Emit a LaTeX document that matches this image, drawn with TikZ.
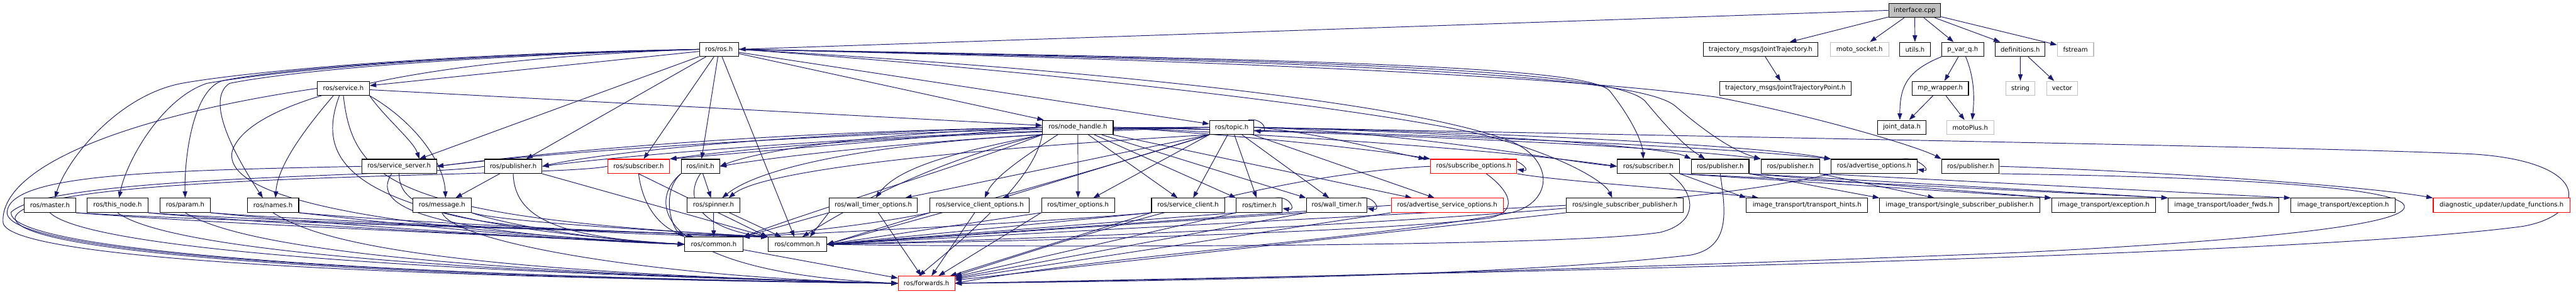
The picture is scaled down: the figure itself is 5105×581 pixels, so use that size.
\documentclass[tikz,border=0pt]{standalone}
\usepackage{fontspec}
\newfontfamily\depfont{DejaVu Sans}
\usepackage{xcolor}
\definecolor{cEdge}{RGB}{25,25,112}
\definecolor{cMiss}{RGB}{191,191,191}
\definecolor{cCut}{RGB}{255,0,0}
\usepackage{tikz}
\pgfdeclarelayer{background}
\pgfsetlayers{background, main}
\usetikzlibrary{arrows.meta, positioning}

\begin{document}
\begin{tikzpicture}[x=1pt, y=-1pt,
    hdr/.style={draw=black, line width=1.3pt, fill=white, minimum height=28pt, inner sep=0pt,
      font=\depfont\fontsize{12.6pt}{15pt}\selectfont},
    hdrmiss/.style={hdr, draw=cMiss},
    hdrcut/.style={hdr, draw=cCut},
    hdrroot/.style={hdr, fill=cMiss},
    dep/.style={draw=cEdge, line width=1.2pt, -{Triangle[length=13pt, width=9pt]}}]
    \useasboundingbox (0,0) rectangle (5105,581);

    % ---------- rank 0 / 1 ----------
    \node[hdrroot, minimum width=103pt] (iface) at (3794.5,20.5) {interface.cpp};
    \node[hdr, minimum width=78pt] (rosh) at (1425,97.7) {ros/ros.h};
    \node[hdr, minimum width=226pt] (jtraj) at (3489,97.7) {trajectory\_msgs/JointTrajectory.h};
    \node[hdrmiss, minimum width=116pt] (motosock) at (3685,97.7) {moto\_socket.h};
    \node[hdr, minimum width=60pt] (utils) at (3795,97.7) {utils.h};
    \node[hdr, minimum width=83pt] (pvarq) at (3889.5,97.7) {p\_var\_q.h};
    \node[hdr, minimum width=99pt] (defs) at (4003.5,97.7) {definitions.h};
    \node[hdrmiss, minimum width=72pt] (fstream) at (4113,97.7) {fstream};

    % ---------- rank 2 / 3 ----------
    \node[hdr, minimum width=103pt] (service) at (680.5,174.9) {ros/service.h};
    \node[hdr, minimum width=260pt] (jtpoint) at (3538,174.9) {trajectory\_msgs/JointTrajectoryPoint.h};
    \node[hdr, minimum width=112pt] (mpwrap) at (3845,174.9) {mp\_wrapper.h};
    \node[hdrmiss, minimum width=58pt] (string) at (4004,174.9) {string};
    \node[hdrmiss, minimum width=61pt] (vector) at (4086.5,174.9) {vector};
    \node[hdr, minimum width=140pt] (nodehandle) at (2136,252.1) {ros/node\_handle.h};
    \node[hdr, minimum width=88pt] (topic) at (2441,252.1) {ros/topic.h};
    \node[hdr, minimum width=96pt] (jointdata) at (3769,252.1) {joint\_data.h};
    \node[hdrmiss, minimum width=93pt] (motoplus) at (3904.5,252.1) {motoPlus.h};

    % ---------- rank 4 ----------
    \node[hdr, minimum width=148pt] (srvserver) at (791,329.3) {ros/service\_server.h};
    \node[hdr, minimum width=114pt] (pubA) at (1017,329.3) {ros/publisher.h};
    \node[hdrcut, minimum width=123pt] (subA) at (1265.5,329.3) {ros/subscriber.h};
    \node[hdr, minimum width=76pt] (init) at (1388,329.3) {ros/init.h};
    \node[hdrcut, minimum width=171pt] (subopts) at (2920.5,329.3) {ros/subscribe\_options.h};
    \node[hdr, minimum width=123pt] (subB) at (3266.5,329.3) {ros/subscriber.h};
    \node[hdr, minimum width=114pt] (pubB) at (3409,329.3) {ros/publisher.h};
    \node[hdr, minimum width=116pt] (pubC) at (3548,329.3) {ros/publisher.h};
    \node[hdr, minimum width=170pt] (advopts) at (3714,329.3) {ros/advertise\_options.h};
    \node[hdr, minimum width=114pt] (pubD) at (3905,329.3) {ros/publisher.h};

    % ---------- rank 5 ----------
    \node[hdr, minimum width=102pt] (master) at (99,406.5) {ros/master.h};
    \node[hdr, minimum width=120pt] (thisnode) at (233,406.5) {ros/this\_node.h};
    \node[hdr, minimum width=100pt] (param) at (367,406.5) {ros/param.h};
    \node[hdr, minimum width=102pt] (names) at (541,406.5) {ros/names.h};
    \node[hdr, minimum width=116pt] (message) at (876,406.5) {ros/message.h};
    \node[hdr, minimum width=104pt] (spinner) at (1414,406.5) {ros/spinner.h};
    \node[hdr, minimum width=175pt] (wtopts) at (1730.5,406.5) {ros/wall\_timer\_options.h};
    \node[hdr, minimum width=197pt] (scopts) at (1941.5,406.5) {ros/service\_client\_options.h};
    \node[hdr, minimum width=145pt] (topts) at (2136.5,406.5) {ros/timer\_options.h};
    \node[hdr, minimum width=145pt] (sclient) at (2354.5,406.5) {ros/service\_client.h};
    \node[hdr, minimum width=91pt] (timer) at (2495.5,406.5) {ros/timer.h};
    \node[hdr, minimum width=120pt] (wtimer) at (2649,406.5) {ros/wall\_timer.h};
    \node[hdrcut, minimum width=222pt] (asopts) at (2868,406.5) {ros/advertise\_service\_options.h};
    \node[hdr, minimum width=232pt] (sspub) at (3220,406.5) {ros/single\_subscriber\_publisher.h};
    \node[hdr, minimum width=240pt] (ithints) at (3581,406.5) {image\_transport/transport\_hints.h};
    \node[hdr, minimum width=317pt] (itsspub) at (3883.5,406.5) {image\_transport/single\_subscriber\_publisher.h};
    \node[hdr, minimum width=206pt] (itexcA) at (4169,406.5) {image\_transport/exception.h};
    \node[hdr, minimum width=219pt] (itloader) at (4406.5,406.5) {image\_transport/loader\_fwds.h};
    \node[hdr, minimum width=207pt] (itexcB) at (4643.5,406.5) {image\_transport/exception.h};
    \node[hdrcut, minimum width=271pt] (diag) at (4957.5,406.5) {diagnostic\_updater/update\_functions.h};

    % ---------- rank 6 / 7 ----------
    \node[hdr, minimum width=115pt] (commonA) at (1414.5,483.7) {ros/common.h};
    \node[hdr, minimum width=116pt] (commonB) at (1580,483.7) {ros/common.h};
    \node[hdrcut, minimum width=112pt] (forwards) at (1836,560.9) {ros/forwards.h};

    \begin{pgfonlayer}{background}
    % ---------- interface.cpp ----------
    \draw[dep] (iface.west) -- (rosh.east);
    \draw[dep] (iface) -- (jtraj);
    \draw[dep] (iface) -- (motosock);
    \draw[dep] (iface) -- (utils);
    \draw[dep] (iface) -- (pvarq);
    \draw[dep] (iface) -- (defs);
    \draw[dep] (iface) -- (fstream);
    \draw[dep] (jtraj) -- (jtpoint);
    \draw[dep] (pvarq) -- (mpwrap);
    \draw[dep] ([xshift=6pt]pvarq.south) .. controls (3915,160) and (3912,200) .. ([xshift=4pt]motoplus.north);
    \draw[dep] (pvarq.south west) .. controls (3780,140) and (3765,170) .. ([xshift=-4pt]jointdata.north);
    \draw[dep] (mpwrap) -- (jointdata);
    \draw[dep] (mpwrap) -- (motoplus);
    \draw[dep] (defs) -- (string);
    \draw[dep] (defs) -- (vector);

    % ---------- ros/ros.h ----------
    \draw[dep] (rosh) -- (service);
    \draw[dep] (rosh.west) .. controls (900,105) and (500,140) .. (360,165) .. controls (230,190) and (130,320) .. ([xshift=10pt]master.north);
    \draw[dep] (rosh.west) .. controls (900,108) and (550,140) .. (410,165) .. controls (320,195) and (250,320) .. ([xshift=3pt]thisnode.north);
    \draw[dep] (rosh.west) .. controls (900,110) and (560,135) .. (440,160) .. controls (380,180) and (365,320) .. (param.north);
    \draw[dep] (rosh.west) .. controls (900,112) and (580,140) .. (455,165) .. controls (400,200) and (480,330) .. ([xshift=-20pt]names.north);
    \draw[dep] (rosh.west) .. controls (800,118) and (490,200) .. (460,300) .. controls (440,400) and (800,455) .. (commonA.west);
    \draw[dep] (rosh) -- (srvserver);
    \draw[dep] (rosh) -- (pubA);
    \draw[dep] (rosh) -- (subA);
    \draw[dep] (rosh) -- (init);
    \draw[dep] (rosh) -- (commonB);
    \draw[dep] (rosh) -- (nodehandle);
    \draw[dep] (rosh) -- (topic);
    \draw[dep] (rosh.east) .. controls (2200,150) and (2800,230) .. (2950,270) .. controls (3100,310) and (3180,360) .. ([xshift=-25pt]sspub.north);
    \draw[dep] (rosh.east) .. controls (2200,140) and (2800,205) .. (2995,280) .. controls (3085,320) and (3075,405) .. (2990,422) .. controls (2700,475) and (2200,505) .. (forwards.east);
    \draw[dep] (rosh.east) .. controls (2700,118) and (3150,135) .. (3190,180) .. controls (3230,230) and (3255,280) .. ([xshift=-10pt]subB.north);
    \draw[dep] (rosh.east) .. controls (2700,120) and (3200,140) .. (3260,200) .. controls (3310,260) and (3340,290) .. ([xshift=-30pt]pubB.north);
    \draw[dep] (rosh.east) .. controls (2700,122) and (3250,150) .. (3320,210) .. controls (3390,270) and (3440,300) .. (pubC.north west);
    \draw[dep] (rosh.east) .. controls (2700,125) and (3200,165) .. (3400,192) .. controls (3600,230) and (3800,290) .. (pubD.north west);

    % ---------- ros/service.h ----------
    \draw[dep] (service) -- (nodehandle);
    \draw[dep] (service.south east) .. controls (760,230) and (820,280) .. ([xshift=40pt]srvserver.north);
    \draw[dep] (service.south east) .. controls (820,240) and (880,320) .. ([xshift=7pt]message.north);
    \draw[dep] ([xshift=-20pt]service.south) .. controls (600,260) and (550,330) .. ([xshift=5pt]names.north);
    \draw[dep] ([xshift=-8pt]service.south) .. controls (620,330) and (700,440) .. (commonA.west);
    \draw[dep] (service.south) .. controls (700,360) and (780,430) .. (commonB.north west);
    \draw[dep] (service.west) .. controls (250,230) and (0,330) .. (6,440) .. controls (12,520) and (900,550) .. (forwards.west);

    % ---------- rank 4, left ----------
    \draw[dep] (srvserver.west) .. controls (300,338) and (20,345) .. (14,420) .. controls (8,510) and (900,548) .. (forwards.west);
    \draw[dep] ([xshift=-15pt]srvserver.south) .. controls (740,400) and (800,460) .. (commonA.west);
    \draw[dep] (srvserver.south) .. controls (790,420) and (900,460) .. (commonB.north west);
    \draw[dep] (pubA) -- (message);
    \draw[dep] (pubA.south) .. controls (1020,430) and (1100,470) .. (commonA.west);
    \draw[dep] (pubA.south east) -- (commonB.north west);
    \draw[dep] (pubA.west) .. controls (850,350) and (100,345) .. (22,420) .. controls (12,505) and (900,550) .. (forwards.west);
    \draw[dep] (subA.south) .. controls (1275,420) and (1320,460) .. ([xshift=-40pt]commonA.north);
    \draw[dep] (subA.south) -- (commonB.north west);
    \draw[dep] (subA.west) .. controls (1100,352) and (60,340) .. (30,430) .. controls (20,510) and (900,552) .. (forwards.west);
    \draw[dep] (init) -- (spinner);
    \draw[dep] (init.south west) .. controls (1310,380) and (1330,450) .. (commonA.north west);
    \draw[dep] (init.south) .. controls (1350,400) and (1400,455) .. (commonB.north west);
    \draw[dep] (init.south west) .. controls (1280,400) and (1300,540) .. (forwards.west);
    \draw[dep] (spinner) -- (commonA);
    \draw[dep] (spinner) -- (commonB);
    \draw[dep] (commonA) -- (forwards);

    % ---------- rank 5, left ----------
    \draw[dep] (master.south east) .. controls (450,445) and (1100,470) .. (commonA.west);
    \draw[dep] (master.south east) .. controls (450,440) and (1200,455) .. (commonB.north west);
    \draw[dep] (master.south) .. controls (150,470) and (500,530) .. (forwards.west);
    \draw[dep] (thisnode.south east) .. controls (550,445) and (1100,472) .. (commonA.west);
    \draw[dep] (thisnode.south east) .. controls (550,440) and (1200,456) .. (commonB.north west);
    \draw[dep] (thisnode.south) .. controls (300,470) and (600,532) .. (forwards.west);
    \draw[dep] (param.south east) .. controls (650,445) and (1100,474) .. (commonA.west);
    \draw[dep] (param.south east) .. controls (650,440) and (1200,457) .. (commonB.north west);
    \draw[dep] (param.south) .. controls (450,470) and (700,534) .. (forwards.west);
    \draw[dep] (names.south east) .. controls (800,445) and (1100,476) .. (commonA.west);
    \draw[dep] (names.south east) .. controls (800,440) and (1200,458) .. (commonB.north west);
    \draw[dep] (names.south) .. controls (620,470) and (800,536) .. (forwards.west);
    \draw[dep] (message.south east) .. controls (1000,445) and (1200,478) .. (commonA.west);
    \draw[dep] (message.south east) .. controls (1000,440) and (1300,456) .. (commonB.north west);
    \draw[dep] (message.south) .. controls (900,480) and (1300,550) .. (forwards.west);

    % ---------- ros/node_handle.h ----------
    \draw[dep] (nodehandle.west) .. controls (1500,262) and (1100,300) .. (srvserver.east);
    \draw[dep] (nodehandle.west) .. controls (1600,262) and (1200,300) .. (pubA.east);
    \draw[dep] (nodehandle.west) -- (subA.north east);
    \draw[dep] (nodehandle.west) .. controls (1700,265) and (1500,300) .. (init.east);
    \draw[dep] (nodehandle.south west) .. controls (1800,280) and (1520,320) .. ([xshift=17pt]spinner.north);
    \draw[dep] (nodehandle.south west) .. controls (1900,300) and (1780,330) .. ([xshift=5pt]wtopts.north);
    \draw[dep] ([xshift=-40pt]nodehandle.south) .. controls (2030,310) and (1970,350) .. ([xshift=10pt]scopts.north);
    \draw[dep] (nodehandle) -- (topts);
    \draw[dep] (nodehandle) -- (sclient);
    \draw[dep] (nodehandle) -- (timer.north west);
    \draw[dep] (nodehandle) -- (wtimer.north west);
    \draw[dep] (nodehandle) -- ([xshift=-70pt]asopts.north);
    \draw[dep] (nodehandle.east) .. controls (2500,270) and (2750,300) .. (subopts.north west);
    \draw[dep] (nodehandle.east) .. controls (2600,270) and (3000,300) .. (subB.west);
    \draw[dep] (nodehandle.east) .. controls (2800,262) and (3400,290) .. (advopts.north west);
    \draw[dep] (nodehandle.east) .. controls (2700,262) and (3300,290) .. (pubC.north west);
    \draw[dep] (nodehandle.south west) .. controls (1900,330) and (1600,420) .. (commonA.north east);
    \draw[dep] (nodehandle.south west) .. controls (1850,320) and (1700,400) .. ([xshift=10pt]commonB.north);
    \draw[dep] (nodehandle.south west) .. controls (2050,360) and (1900,480) .. ([xshift=-15pt]forwards.north);

    % ---------- ros/topic.h ----------
    \draw[dep] ([xshift=-12pt]topic.north east) .. controls +(30,-5) and +(30,5) .. ([yshift=-6pt]topic.east);
    \draw[dep] (topic.west) .. controls (1800,250) and (1100,300) .. (srvserver.east);
    \draw[dep] (topic.west) .. controls (1900,255) and (1300,300) .. (pubA.east);
    \draw[dep] (topic.west) .. controls (1900,260) and (1500,290) .. (subA.north east);
    \draw[dep] (topic.west) .. controls (2000,262) and (1600,300) .. (init.east);
    \draw[dep] (topic.south west) .. controls (2000,290) and (1520,330) .. ([xshift=30pt]spinner.north);
    \draw[dep] (topic.south west) -- ([xshift=-25pt]wtopts.north east);
    \draw[dep] (topic.south west) -- ([xshift=45pt]scopts.north);
    \draw[dep] (topic.south west) -- ([xshift=30pt]topts.north);
    \draw[dep] (topic) -- ([xshift=10pt]sclient.north);
    \draw[dep] (topic) -- (timer);
    \draw[dep] (topic) -- ([xshift=-15pt]wtimer.north);
    \draw[dep] (topic) -- ([xshift=-25pt]asopts.north);
    \draw[dep] (topic.east) .. controls (2600,260) and (2750,300) .. ([xshift=-10pt]subopts.north west);
    \draw[dep] (topic.east) .. controls (2800,262) and (3100,320) .. (subB.west);
    \draw[dep] (topic.east) .. controls (2900,262) and (3300,290) .. (pubB.north west);
    \draw[dep] (topic.east) .. controls (3000,262) and (3500,290) .. (advopts.north west);
    \draw[dep] (topic.south west) .. controls (2200,330) and (1800,440) .. (commonB.east);
    \draw[dep] (topic.east) .. controls (3800,278) and (4600,292) .. (4900,305) .. controls (5140,320) and (5130,425) .. (5000,448) .. controls (4500,515) and (2500,548) .. (forwards.east);

    % ---------- rank 5, right ----------
    \draw[dep] (wtopts) -- (forwards);
    \draw[dep] (wtopts.south west) -- (commonA.north east);
    \draw[dep] (wtopts.south west) -- ([xshift=25pt]commonB.north);
    \draw[dep] (scopts) -- (forwards);
    \draw[dep] (scopts.south west) -- (commonB.east);
    \draw[dep] (scopts.south west) .. controls (1700,450) and (1550,462) .. (commonA.north east);
    \draw[dep] (topts.south west) -- (forwards);
    \draw[dep] (topts.south west) -- (commonB.east);
    \draw[dep] (sclient.south west) -- (forwards);
    \draw[dep] (sclient.south west) -- (commonB.east);
    \draw[dep] (sclient.south west) .. controls (2000,445) and (1600,462) .. (commonA.north east);
    \draw[dep] ([xshift=-14pt]timer.north east) .. controls +(28,-5) and +(28,5) .. ([yshift=-6pt]timer.east);
    \draw[dep] (timer.south west) -- (forwards);
    \draw[dep] (timer.south west) -- (commonB.east);
    \draw[dep] ([xshift=-14pt]wtimer.north east) .. controls +(28,-5) and +(28,5) .. ([yshift=-6pt]wtimer.east);
    \draw[dep] (wtimer.south west) -- (forwards);
    \draw[dep] (wtimer.south west) -- (commonB.east);
    \draw[dep] (asopts.south west) -- (forwards);
    \draw[dep] (asopts.west) -- (commonB.east);
    \draw[dep] (sspub.south west) -- (forwards);
    \draw[dep] (sspub.west) -- (commonB.east);

    % ---------- rank 4, right ----------
    \draw[dep] ([xshift=-30pt]subopts.north east) .. controls +(30,-5) and +(30,5) .. ([yshift=-6pt]subopts.east);
    \draw[dep] (subopts.west) .. controls (2500,345) and (2100,480) .. (forwards.north east);
    \draw[dep] ([xshift=25pt]subopts.south) .. controls (2995,380) and (3010,420) .. (2950,432) .. controls (2700,462) and (2000,478) .. (commonB.east);
    \draw[dep] (subopts.south east) .. controls (3100,360) and (3350,375) .. ([xshift=25pt]ithints.north west);
    \draw[dep] (subB.south east) -- (ithints.north west);
    \draw[dep] (subB.south east) -- (itexcA.north west);
    \draw[dep] (subB.south east) -- (itloader.north west);
    \draw[dep] ([xshift=-20pt]subB.south east) .. controls (3360,380) and (3370,440) .. (3290,460) .. controls (3100,490) and (2000,490) .. (commonB.east);
    \draw[dep] (pubB.south east) -- (itsspub.north west);
    \draw[dep] (pubB.south east) -- (itexcA.north west);
    \draw[dep] (pubB.south east) -- (itloader.north west);
    \draw[dep] (pubB.south) .. controls (3420,420) and (3430,490) .. (3350,505) .. controls (3000,545) and (2400,555) .. (forwards.east);
    \draw[dep] (pubC.south east) -- ([xshift=-50pt]itsspub.north);
    \draw[dep] (pubC.south east) -- (itexcB.north west);
    \draw[dep] ([xshift=-30pt]advopts.north east) .. controls +(30,-5) and +(30,5) .. ([yshift=-6pt]advopts.east);
    \draw[dep] (advopts.south west) .. controls (3300,425) and (2200,470) .. (commonB.east);
    \draw[dep] (pubD.east) .. controls (4300,340) and (4700,370) .. (diag.north west);
    \draw[dep] (pubD.south east) .. controls (4400,350) and (4770,370) .. (4765,410) .. controls (4760,450) and (4400,480) .. (4000,500) .. controls (3000,540) and (2300,555) .. (forwards.east);
    \end{pgfonlayer}
\end{tikzpicture}
\end{document}
